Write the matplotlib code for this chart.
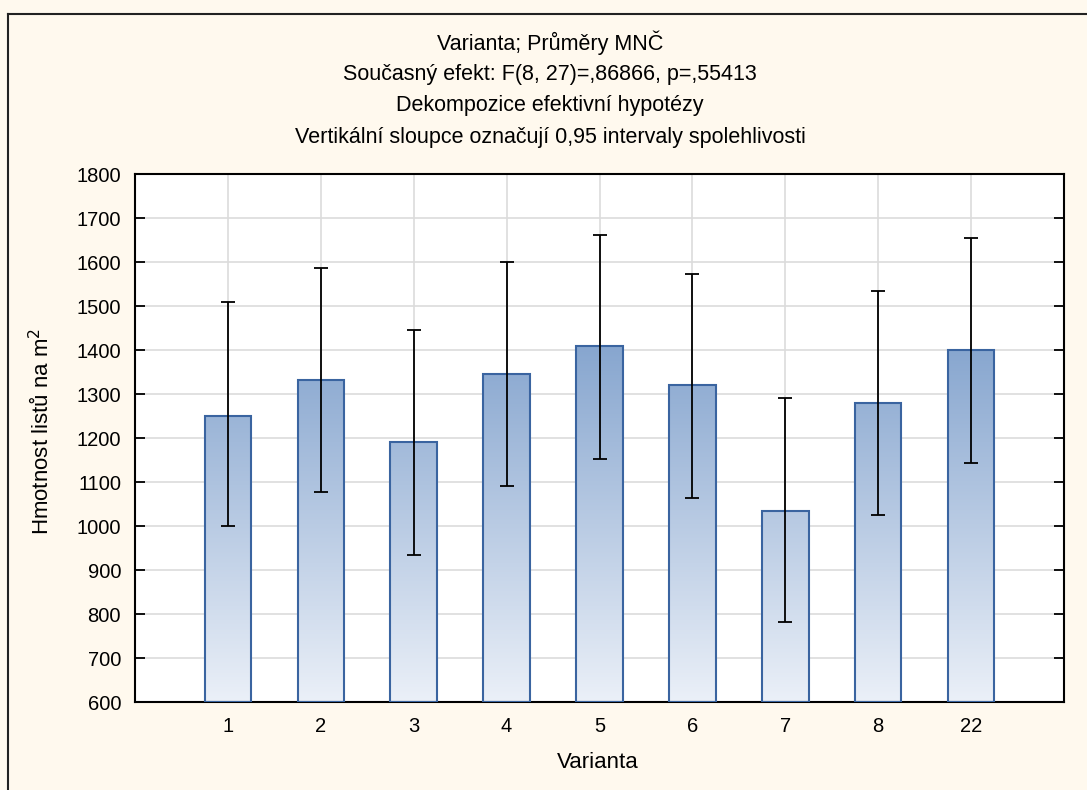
import numpy as np
import matplotlib
matplotlib.use('Agg')
import matplotlib.pyplot as plt
from matplotlib.colors import LinearSegmentedColormap

plt.rcParams['font.family'] = ['Liberation Sans', 'DejaVu Sans']

# data
varianty = ['1', '2', '3', '4', '5', '6', '7', '8', '22']
prumery = [1251, 1331, 1190, 1345, 1408, 1320, 1035, 1279, 1399]
dolni = [1001, 1078, 935, 1090, 1153, 1064, 782, 1024, 1144]
horni = [1508, 1586, 1445, 1600, 1661, 1572, 1292, 1533, 1654]

titulky = ['Varianta; Průměry MNČ',
           'Současný efekt: F(8, 27)=,86866, p=,55413',
           'Dekompozice efektivní hypotézy',
           'Vertikální sloupce označují 0,95 intervaly spolehlivosti']

W, H = 1087, 790
bg = '#fff9ee'
fig = plt.figure(figsize=(W / 100, H / 100), dpi=100, facecolor=bg)
ax = fig.add_axes([135 / W, 1 - 702 / H, (1064 - 135) / W, (702 - 174) / H])
ax.set_facecolor('white')

x = np.arange(1, len(varianty) + 1)
ymin, ymax = 600, 1800

# gradient fill - same scale for all bars (data space)
cmap = LinearSegmentedColormap.from_list('g', ['#ebf0f8', '#87a6cf'])
grad = np.linspace(0, 1, 256).reshape(-1, 1)
gtop = max(prumery)
bars = ax.bar(x, np.array(prumery) - ymin, bottom=ymin, width=0.5,
              facecolor='none', edgecolor='#3a64a0', linewidth=1.5, zorder=3)
for b in bars:
    x0, w = b.get_x(), b.get_width()
    im = ax.imshow(grad, cmap=cmap, aspect='auto', origin='lower',
                   extent=[x0, x0 + w, ymin, gtop], zorder=2)
    im.set_clip_path(b)

prum = np.array(prumery)
yerr = [prum - np.array(dolni), np.array(horni) - prum]
ax.errorbar(x, prum, yerr=yerr, fmt='none', ecolor='black', elinewidth=1.3,
            capsize=5, capthick=1.3, zorder=4)

ax.set_xlim(0, len(varianty) + 1)
ax.set_ylim(ymin, ymax)
ax.set_xticks(x)
ax.set_xticklabels(varianty)
ax.set_yticks(np.arange(600, 1801, 100))
ax.grid(True, color='#dcdcdc', linewidth=1.2, zorder=0)
ax.set_axisbelow(True)
ax.tick_params(axis='both', direction='in', labelsize=14.5, color='black', width=1.3)
ax.tick_params(axis='y', right=True, length=7, pad=10)
ax.tick_params(axis='x', length=5, pad=11)
for s in ax.spines.values():
    s.set_linewidth(1.5)

fig.text(598 / W, 1 - 762 / H, 'Varianta', ha='center', va='center', fontsize=16)
fig.text(42 / W, 1 - 431 / H, 'Hmotnost listů na m$^2$', ha='center', va='center',
         rotation=90, fontsize=16)

for i, t in enumerate(titulky):
    fig.text(550 / W, 1 - (43 + i * 31.5) / H, t, ha='center', va='center', fontsize=15.5)

# outer frame
fig.add_artist(plt.Line2D([8 / W, 8 / W], [0, 1 - 14 / H], color='#222222',
                          linewidth=1.5, transform=fig.transFigure))
fig.add_artist(plt.Line2D([8 / W, 1], [1 - 14 / H, 1 - 14 / H], color='#222222',
                          linewidth=1.5, transform=fig.transFigure))

fig.savefig('out.png', dpi=100, facecolor=bg)
